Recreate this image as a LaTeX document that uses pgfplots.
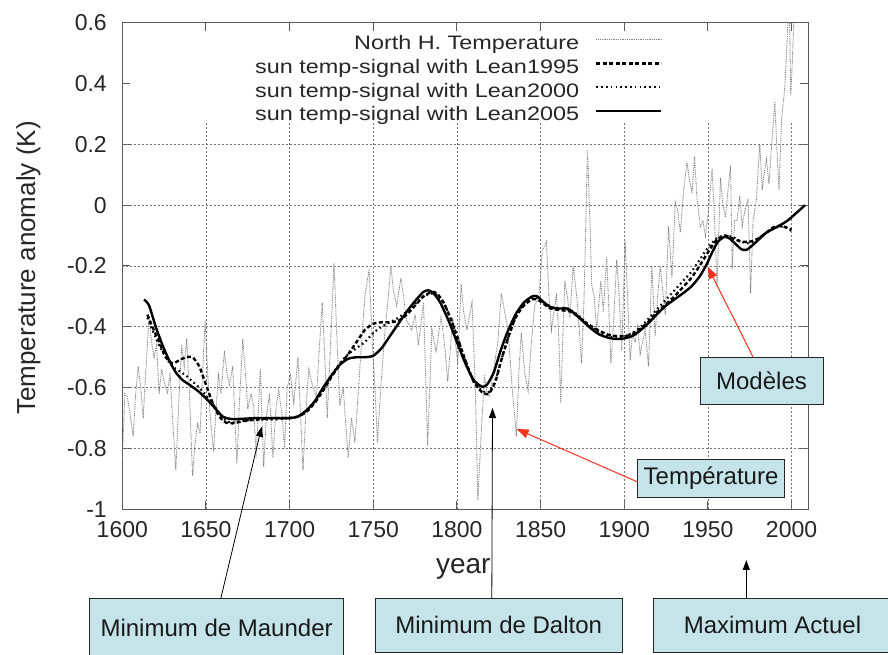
\documentclass[border=0pt]{standalone}
\usepackage{pgfplots}
\pgfplotsset{compat=1.18}
\usepackage{pgfplotstable}
\usepackage{fontspec}
\setmainfont{Liberation Sans}
\newfontfamily\legfont{Liberation Sans}[FakeStretch=1.2]
\usetikzlibrary{arrows.meta}
\definecolor{boxc}{RGB}{197,228,233}
\definecolor{arrred}{RGB}{240,50,30}

\pgfplotstableread{
year val
1600 -0.84
1601.5 -0.62
1603 -0.63
1605 -0.70
1606.5 -0.76
1608 -0.62
1609.5 -0.53
1611 -0.60
1612.5 -0.70
1614 -0.55
1616 -0.37
1617.5 -0.45
1619 -0.50
1620.5 -0.46
1622 -0.62
1623.5 -0.54
1625 -0.58
1627 -0.62
1628.5 -0.55
1630 -0.70
1632 -0.87
1634 -0.62
1635.5 -0.46
1637 -0.53
1638.5 -0.44
1640 -0.60
1642 -0.89
1643.5 -0.78
1645 -0.72
1646.5 -0.75
1648 -0.55
1649.5 -0.38
1651 -0.55
1652.5 -0.69
1654.5 -0.81
1656 -0.67
1657.5 -0.56
1659 -0.62
1661 -0.48
1662.5 -0.55
1664 -0.59
1666 -0.53
1668.5 -0.85
1670 -0.65
1672 -0.44
1673.5 -0.55
1675 -0.67
1677 -0.62
1678.5 -0.66
1680 -0.83
1682.5 -0.54
1684.5 -0.86
1686 -0.70
1688 -0.62
1690 -0.83
1692 -0.66
1693.5 -0.61
1695.5 -0.69
1697 -0.80
1698.5 -0.60
1700.5 -0.56
1702.5 -0.65
1705 -0.50
1708 -0.87
1710 -0.65
1711.5 -0.54
1714 -0.60
1716 -0.63
1718 -0.45
1719.5 -0.32
1721 -0.50
1722.5 -0.70
1724.5 -0.45
1726.5 -0.19
1728 -0.40
1730 -0.66
1732 -0.60
1735 -0.83
1737 -0.70
1739 -0.78
1741 -0.62
1743 -0.45
1745 -0.30
1747.5 -0.21
1749.5 -0.46
1751 -0.60
1752.5 -0.78
1754.5 -0.60
1757 -0.41
1759 -0.30
1760.5 -0.20
1762 -0.28
1764 -0.33
1766.5 -0.24
1768 -0.30
1770 -0.38
1773 -0.41
1775 -0.36
1777 -0.46
1780 -0.32
1782.5 -0.79
1785 -0.41
1787.5 -0.48
1790.5 -0.37
1792.5 -0.45
1794.5 -0.58
1797.5 -0.37
1800.5 -0.52
1802.5 -0.26
1804 -0.35
1806 -0.41
1809 -0.32
1811 -0.60
1812.5 -0.97
1814.5 -0.75
1816.5 -0.56
1818 -0.62
1819.5 -0.63
1822.5 -0.52
1824.5 -0.45
1826.5 -0.29
1828.5 -0.35
1830.5 -0.41
1833 -0.60
1835.5 -0.76
1837 -0.55
1838.5 -0.42
1840.5 -0.55
1842.5 -0.61
1844.5 -0.45
1846.5 -0.33
1849 -0.30
1851 -0.15
1853.5 -0.12
1855 -0.30
1856.5 -0.41
1858 -0.35
1859.5 -0.29
1861 -0.45
1862 -0.65
1863.5 -0.40
1864.5 -0.25
1866 -0.30
1867.5 -0.37
1869.5 -0.20
1872 -0.32
1874.5 -0.52
1876 -0.30
1878 0.18
1879.5 -0.05
1880.5 -0.26
1882 -0.30
1883.5 -0.41
1886 -0.25
1887.5 -0.35
1889.5 -0.17
1890.5 -0.30
1892 -0.52
1893.5 -0.40
1895.5 -0.18
1897 -0.30
1898.5 -0.48
1900.5 -0.12
1902 -0.30
1903.5 -0.51
1905 -0.42
1906.5 -0.45
1908 -0.40
1909.5 -0.49
1911 -0.45
1912.5 -0.41
1914.5 -0.53
1916.5 -0.20
1918.5 -0.43
1920 -0.30
1921.5 -0.20
1923 -0.28
1924.5 -0.36
1926.5 -0.07
1928.5 -0.24
1930.5 0.01
1932 -0.02
1933.5 -0.09
1935.5 0.05
1937.5 0.14
1939 0.08
1940.5 0.04
1942 0.16
1943.5 0.02
1945.5 -0.07
1947 -0.05
1948.5 -0.10
1950.5 -0.01
1952.5 0.12
1954 -0.05
1955.5 -0.27
1957.5 0.09
1959 0.00
1960.5 -0.04
1962 0.05
1963.5 0.13
1964.5 -0.21
1966 -0.05
1967.5 -0.05
1969 0.03
1970.5 -0.07
1972 -0.02
1974 0.02
1975.5 -0.29
1977 -0.05
1979 0.02
1981 0.20
1982.5 0.05
1983.5 0.10
1985 0.15
1986.5 0.07
1988 0.19
1990 0.34
1991.5 0.15
1992.5 0.05
1994 0.28
1996 0.39
1997.5 0.56
1998.5 0.70
1999.5 0.36
2000.5 0.48
2002 0.70
2004 0.75
}\northh

\pgfplotstableread{
year val
1613 -0.31
1616 -0.33
1620 -0.40
1624 -0.46
1628 -0.51
1632 -0.55
1636 -0.575
1640 -0.59
1645 -0.61
1650 -0.635
1655 -0.665
1660 -0.695
1665 -0.703
1670 -0.703
1680 -0.700
1690 -0.700
1700 -0.700
1705 -0.695
1710 -0.675
1715 -0.645
1720 -0.60
1725 -0.56
1730 -0.525
1735 -0.505
1740 -0.50
1745 -0.50
1750 -0.495
1755 -0.47
1760 -0.43
1765 -0.39
1770 -0.35
1775 -0.315
1780 -0.285
1783 -0.28
1786 -0.29
1790 -0.32
1795 -0.38
1800 -0.45
1805 -0.52
1810 -0.575
1815 -0.597
1818 -0.59
1822 -0.55
1826 -0.48
1830 -0.42
1835 -0.36
1840 -0.32
1845 -0.30
1848 -0.30
1852 -0.32
1856 -0.335
1860 -0.34
1866 -0.34
1870 -0.355
1875 -0.38
1880 -0.405
1885 -0.425
1890 -0.435
1895 -0.44
1900 -0.438
1905 -0.43
1910 -0.41
1915 -0.385
1920 -0.356
1925 -0.33
1930 -0.31
1935 -0.29
1940 -0.268
1945 -0.235
1949 -0.197
1953 -0.15
1956 -0.12
1960 -0.104
1963 -0.11
1967 -0.13
1970 -0.145
1973 -0.147
1976 -0.135
1980 -0.115
1985 -0.09
1990 -0.075
1995 -0.06
1998 -0.049
2003 -0.025
2008 0.0
}\leanfive

\pgfplotstableread{
year val
1615 -0.36
1618 -0.40
1622 -0.45
1626 -0.50
1630 -0.52
1634 -0.51
1638 -0.50
1642 -0.50
1646 -0.53
1650 -0.59
1654 -0.65
1658 -0.695
1662 -0.715
1667 -0.717
1672 -0.71
1680 -0.705
1690 -0.70
1700 -0.70
1705 -0.695
1710 -0.68
1715 -0.65
1720 -0.61
1725 -0.565
1730 -0.525
1735 -0.49
1740 -0.45
1745 -0.41
1750 -0.39
1755 -0.385
1760 -0.385
1765 -0.38
1770 -0.36
1775 -0.33
1780 -0.30
1785 -0.285
1788 -0.29
1792 -0.32
1796 -0.37
1800 -0.43
1805 -0.51
1810 -0.58
1815 -0.615
1819 -0.62
1823 -0.58
1827 -0.50
1831 -0.43
1835 -0.37
1840 -0.33
1845 -0.31
1848 -0.31
1852 -0.325
1856 -0.34
1862 -0.345
1868 -0.35
1872 -0.365
1878 -0.39
1884 -0.41
1890 -0.425
1895 -0.43
1900 -0.43
1905 -0.425
1910 -0.405
1915 -0.38
1920 -0.35
1925 -0.325
1930 -0.30
1935 -0.27
1940 -0.24
1945 -0.20
1950 -0.155
1955 -0.115
1960 -0.10
1965 -0.11
1970 -0.12
1975 -0.12
1980 -0.11
1985 -0.09
1990 -0.07
1995 -0.07
2000 -0.08
}\leanninetyfive

\pgfplotstableread{
year val
1615 -0.37
1618 -0.41
1622 -0.46
1626 -0.50
1630 -0.53
1634 -0.545
1638 -0.56
1642 -0.58
1646 -0.60
1650 -0.625
1655 -0.66
1660 -0.70
1665 -0.715
1670 -0.71
1680 -0.705
1690 -0.705
1700 -0.70
1705 -0.695
1710 -0.675
1715 -0.645
1720 -0.605
1725 -0.56
1730 -0.52
1735 -0.49
1740 -0.47
1745 -0.45
1750 -0.42
1755 -0.40
1760 -0.385
1765 -0.37
1770 -0.35
1775 -0.325
1780 -0.30
1785 -0.29
1788 -0.295
1792 -0.32
1796 -0.37
1800 -0.43
1805 -0.51
1810 -0.58
1815 -0.61
1819 -0.615
1823 -0.575
1827 -0.50
1831 -0.43
1835 -0.37
1840 -0.325
1845 -0.305
1848 -0.305
1852 -0.32
1856 -0.335
1862 -0.34
1868 -0.345
1872 -0.36
1878 -0.39
1884 -0.415
1890 -0.43
1895 -0.435
1900 -0.432
1905 -0.42
1910 -0.40
1915 -0.37
1920 -0.34
1925 -0.31
1930 -0.28
1935 -0.25
1940 -0.22
1945 -0.18
1950 -0.14
1955 -0.11
1960 -0.10
1965 -0.105
1970 -0.12
1975 -0.125
1980 -0.11
1985 -0.09
1990 -0.075
1995 -0.07
2000 -0.085
}\leantwothousand

\begin{document}
\begin{tikzpicture}
\useasboundingbox (0pt,0pt) rectangle (888pt,655pt);
\begin{axis}[
  at={(122.3pt,145.7pt)}, anchor=south west,
  scale only axis, width=686pt, height=486.6pt,
  xmin=1600, xmax=2010, ymin=-1, ymax=0.6,
  xtick={1600,1650,1700,1750,1800,1850,1900,1950,2000},
  ytick={-1,-0.8,-0.6,-0.4,-0.2,0,0.2,0.4,0.6},
  tick align=inside, major tick length=8pt,
  axis line style={black!65, line width=1.2pt},
  every tick/.style={black!65, line width=1pt},
  /pgf/number format/assume math mode=true,
  ticklabel style={font=\fontsize{23}{25}\selectfont, text=black!85},
  yticklabel style={/pgf/number format/fixed, /pgf/number format/precision=1, xshift=-12pt},
  xticklabel style={/pgf/number format/set thousands separator={}, yshift=-9pt},
  xlabel={year}, ylabel={Temperature anomaly (K)},
  xlabel style={font=\fontsize{28}{30}\selectfont, text=black!85, at={(axis description cs:0.497,0)}, anchor=center, yshift=-60pt},
  ylabel style={font=\fontsize{26}{28}\selectfont, text=black!85, at={(axis description cs:-0.137,0.496)}, anchor=center},
  legend cell align=right, legend plot pos=right,
  legend image code/.code={\draw[#1] (0pt,5pt) -- (65pt,5pt);},
  legend style={draw=none, fill=none, at={(axis description cs:0.7878,0.979)}, anchor=north east,
    font=\legfont\fontsize{19.5}{22}\selectfont, text=black!85, inner sep=0pt, row sep=0pt,
    nodes={inner sep=1pt, text height=15.8pt, text depth=5.8pt},
    /tikz/every odd column/.append style={column sep=15pt}},
]
% grid (hidden behind the key area, as in the original)
\foreach \gx in {1650,1700,1750,1800,1850,1900,1950,2000} {
  \edef\tmp{\noexpand\draw[black!55, line width=0.8pt, dash pattern=on 2pt off 2pt] (axis cs:\gx,-1) -- (axis cs:\gx,0.27);}\tmp
}
\foreach \gy in {-0.8,-0.6,-0.4,-0.2,0,0.2} {
  \edef\tmp{\noexpand\draw[black!55, line width=0.8pt, dash pattern=on 2pt off 2pt] (axis cs:1600,\gy) -- (axis cs:2010,\gy);}\tmp
}
\addplot[black!50, line width=0.9pt, dash pattern=on 0.9pt off 0.9pt] table[x=year,y=val] {\northh};
\addlegendentry{North H. Temperature}
\addplot[black, line width=2.4pt, dash pattern=on 4pt off 2.5pt, smooth, tension=0.4] table[x=year,y=val] {\leanninetyfive};
\addlegendentry{sun temp-signal with Lean1995}
\addplot[black, line width=2.2pt, dash pattern=on 1.6pt off 3.2pt, smooth, tension=0.4] table[x=year,y=val] {\leantwothousand};
\addlegendentry{sun temp-signal with Lean2000}
\addplot[black, line width=2.4pt, smooth, tension=0.4] table[x=year,y=val] {\leanfive};
\addlegendentry{sun temp-signal with Lean2005}
\end{axis}

% annotation boxes
\tikzset{ann/.style={fill=boxc, draw=black!85, line width=0.9pt},
         anntext/.style={font=\fontsize{24}{26}\selectfont, text=black!90}}
\draw[ann] (89.5pt,56.5pt) rectangle (343.7pt,-17pt);
\node[anntext] at (216.6pt,27pt) {Minimum de Maunder};
\draw[ann] (375pt,56.5pt) rectangle (622.5pt,2.5pt);
\node[anntext] at (498.7pt,30pt) {Minimum de Dalton};
\draw[ann] (653pt,56.5pt) rectangle (895pt,2.5pt);
\node[anntext] at (772.5pt,30pt) {Maximum Actuel};
\draw[ann] (700pt,298pt) rectangle (823pt,251pt);
\node[anntext] at (761.5pt,274pt) {Modèles};
\draw[ann] (637.7pt,196pt) rectangle (784pt,158pt);
\node[anntext] at (711pt,177pt) {Température};

% arrows
\draw[black, line width=0.8pt, -{Triangle[length=10pt,width=7pt]}] (220.8pt,56.5pt) -- (261.7pt,228.3pt);
\draw[black, line width=0.8pt, -{Triangle[length=10pt,width=7pt]}] (491.8pt,56.5pt) -- (492.5pt,247pt);
\draw[black, line width=0.8pt, -{Triangle[length=10pt,width=7pt]}] (746.3pt,56.5pt) -- (746.3pt,95pt);
\draw[arrred, line width=1pt, -{Triangle[length=12pt,width=9pt]}] (753pt,298pt) -- (707.7pt,388.3pt);
\draw[arrred, line width=1pt, -{Triangle[length=12pt,width=9pt]}] (637.7pt,173pt) -- (516.7pt,226pt);
\end{tikzpicture}
\end{document}
